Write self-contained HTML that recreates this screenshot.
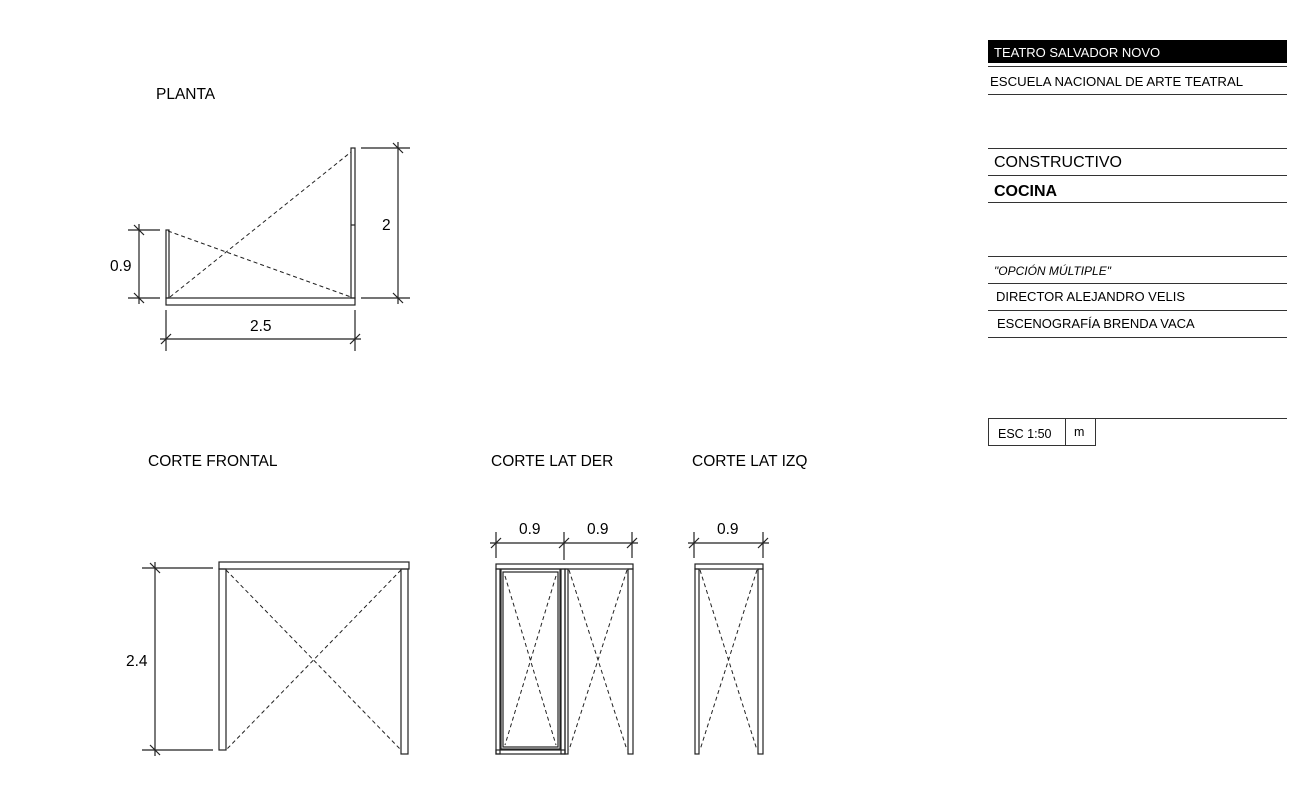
<!DOCTYPE html>
<html><head><meta charset="utf-8"><style>
body{margin:0;background:#fff;}
svg{display:block;font-family:"Liberation Sans",Arial,sans-serif;}
</style></head><body>
<svg width="1313" height="786" viewBox="0 0 1313 786" xmlns="http://www.w3.org/2000/svg">
<g fill="#000" font-size="15.5">
<text x="156" y="99">PLANTA</text>
<text x="148" y="466">CORTE FRONTAL</text>
<text x="491" y="466">CORTE LAT DER</text>
<text x="692" y="466">CORTE LAT IZQ</text>
<text x="110" y="271">0.9</text>
<text x="382" y="230">2</text>
<text x="250" y="331">2.5</text>
<text x="126" y="666">2.4</text>
<text x="519" y="534">0.9</text>
<text x="587" y="534">0.9</text>
<text x="717" y="534">0.9</text>
</g>
<g fill="none" stroke="#222" stroke-width="1.2">
<rect x="166" y="230" width="3" height="68"/>
<rect x="166" y="298" width="189" height="7"/>
<rect x="351" y="148" width="4" height="150"/>
<line x1="351" y1="225" x2="355" y2="225"/>
<line x1="398" y1="142" x2="398" y2="304"/>
<line x1="361" y1="148" x2="410" y2="148"/>
<line x1="361" y1="298" x2="410" y2="298"/>
<line x1="393" y1="143" x2="403" y2="153"/><line x1="393" y1="293" x2="403" y2="303"/>
<line x1="139" y1="224" x2="139" y2="304"/>
<line x1="128" y1="230" x2="160" y2="230"/>
<line x1="128" y1="298" x2="160" y2="298"/>
<line x1="134" y1="225" x2="144" y2="235"/><line x1="134" y1="293" x2="144" y2="303"/>
<line x1="160" y1="339" x2="361" y2="339"/>
<line x1="166" y1="310" x2="166" y2="351"/>
<line x1="355" y1="310" x2="355" y2="351"/>
<line x1="161" y1="344" x2="171" y2="334"/><line x1="350" y1="344" x2="360" y2="334"/>
<rect x="219" y="562" width="190" height="7"/>
<rect x="219" y="569" width="7" height="181"/>
<rect x="401" y="569" width="7" height="185"/>
<line x1="155" y1="562" x2="155" y2="756"/>
<line x1="142" y1="568" x2="213" y2="568"/>
<line x1="142" y1="750" x2="213" y2="750"/>
<line x1="150" y1="563" x2="160" y2="573"/><line x1="150" y1="745" x2="160" y2="755"/>
<line x1="490" y1="543" x2="638" y2="543"/>
<line x1="496" y1="532" x2="496" y2="558"/>
<line x1="564" y1="532" x2="564" y2="560"/>
<line x1="632" y1="532" x2="632" y2="558"/>
<line x1="491" y1="548" x2="501" y2="538"/><line x1="559" y1="548" x2="569" y2="538"/><line x1="627" y1="548" x2="637" y2="538"/>
<rect x="496" y="564" width="137" height="5"/>
<rect x="496" y="569" width="4" height="185"/>
<rect x="496" y="750" width="69" height="4"/>
<rect x="561" y="569" width="4" height="185"/>
<rect x="565" y="569" width="3" height="185"/>
<rect x="501" y="569" width="59" height="180"/>
<rect x="503" y="572" width="55" height="175"/>
<rect x="628" y="569" width="5" height="185"/>
<line x1="688" y1="543" x2="769" y2="543"/>
<line x1="694" y1="532" x2="694" y2="558"/>
<line x1="763" y1="532" x2="763" y2="558"/>
<line x1="689" y1="548" x2="699" y2="538"/><line x1="758" y1="548" x2="768" y2="538"/>
<rect x="695" y="564" width="68" height="5"/>
<rect x="695" y="569" width="4" height="185"/>
<rect x="758" y="569" width="5" height="185"/>
</g>
<g stroke="#222" stroke-width="1" stroke-dasharray="4,3" fill="none">
<line x1="168" y1="231" x2="351" y2="297"/>
<line x1="170" y1="297" x2="351" y2="152"/>
<line x1="226" y1="570" x2="401" y2="750"/>
<line x1="401" y1="570" x2="226" y2="750"/>
<line x1="505" y1="576" x2="556" y2="745"/>
<line x1="556" y1="576" x2="505" y2="745"/>
<line x1="569" y1="570" x2="627" y2="750"/>
<line x1="627" y1="570" x2="569" y2="750"/>
<line x1="700" y1="570" x2="757" y2="750"/>
<line x1="757" y1="570" x2="700" y2="750"/>
</g>
<rect x="988" y="40" width="299" height="23" fill="#000"/>
<text x="994" y="57" fill="#fff" font-size="13">TEATRO SALVADOR NOVO</text>
<g stroke="#333" stroke-width="1">
<line x1="988" y1="66.5" x2="1287" y2="66.5"/>
<line x1="988" y1="94.5" x2="1287" y2="94.5"/>
<line x1="988" y1="148.5" x2="1287" y2="148.5"/>
<line x1="988" y1="175.5" x2="1287" y2="175.5"/>
<line x1="988" y1="202.5" x2="1287" y2="202.5"/>
<line x1="988" y1="256.5" x2="1287" y2="256.5"/>
<line x1="988" y1="283.5" x2="1287" y2="283.5"/>
<line x1="988" y1="310.5" x2="1287" y2="310.5"/>
<line x1="988" y1="337.5" x2="1287" y2="337.5"/>
<line x1="988" y1="418.5" x2="1287" y2="418.5"/>
<rect x="988.5" y="418.5" width="107" height="27" fill="none"/>
<line x1="1065.5" y1="418" x2="1065.5" y2="446"/>
</g>
<g fill="#000">
<text x="990" y="86" font-size="13.2">ESCUELA NACIONAL DE ARTE TEATRAL</text>
<text x="994" y="167" font-size="16">CONSTRUCTIVO</text>
<text x="994" y="196" font-size="16" font-weight="bold">COCINA</text>
<text x="994" y="275" font-size="12" font-style="italic">"OPCIÓN MÚLTIPLE"</text>
<text x="996" y="301" font-size="13">DIRECTOR ALEJANDRO VELIS</text>
<text x="997" y="328" font-size="13">ESCENOGRAFÍA BRENDA VACA</text>
<text x="998" y="438" font-size="12.5">ESC 1:50</text>
<text x="1074" y="436" font-size="12.5">m</text>
</g>
</svg>
</body></html>
